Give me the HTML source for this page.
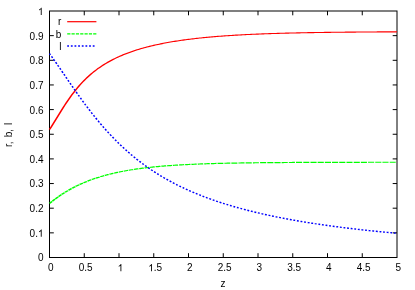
<!DOCTYPE html>
<html><head><meta charset="utf-8"><style>
html,body{margin:0;padding:0;background:#fff;}
svg{display:block}
text{font-family:"Liberation Sans",sans-serif;font-size:10px;fill:#000}
</style></head><body>
<svg width="415" height="290" viewBox="0 0 415 290">
<rect width="415" height="290" fill="#fff"/>
<g stroke="#000" stroke-width="1" fill="none"><path d="M84.25 257.50v-4.3M84.25 11.00v4.3"/><path d="M49.50 232.85h4.3M397.00 232.85h-4.3"/><path d="M119.00 257.50v-4.3M119.00 11.00v4.3"/><path d="M49.50 208.20h4.3M397.00 208.20h-4.3"/><path d="M153.75 257.50v-4.3M153.75 11.00v4.3"/><path d="M49.50 183.55h4.3M397.00 183.55h-4.3"/><path d="M188.50 257.50v-4.3M188.50 11.00v4.3"/><path d="M49.50 158.90h4.3M397.00 158.90h-4.3"/><path d="M223.25 257.50v-4.3M223.25 11.00v4.3"/><path d="M49.50 134.25h4.3M397.00 134.25h-4.3"/><path d="M258.00 257.50v-4.3M258.00 11.00v4.3"/><path d="M49.50 109.60h4.3M397.00 109.60h-4.3"/><path d="M292.75 257.50v-4.3M292.75 11.00v4.3"/><path d="M49.50 84.95h4.3M397.00 84.95h-4.3"/><path d="M327.50 257.50v-4.3M327.50 11.00v4.3"/><path d="M49.50 60.30h4.3M397.00 60.30h-4.3"/><path d="M362.25 257.50v-4.3M362.25 11.00v4.3"/><path d="M49.50 35.65h4.3M397.00 35.65h-4.3"/>
<rect x="49.5" y="11.0" width="347.5" height="246.5"/></g>
<g style="filter:grayscale(1)"><text x="48.12" y="271.30">0</text><text x="37.94" y="261.40">0</text><text x="78.70" y="271.30">0.5</text><text x="29.60" y="236.75">0.</text><path transform="translate(37.94,236.75) scale(0.004883,-0.004883)" d="M763 0H583V1147Q518 1085 412.5 1023T223 930V1104Q373 1174.5 485 1275T644 1470H763Z"/><path transform="translate(117.62,271.30) scale(0.004883,-0.004883)" d="M763 0H583V1147Q518 1085 412.5 1023T223 930V1104Q373 1174.5 485 1275T644 1470H763Z"/><text x="29.60" y="212.10">0.2</text><path transform="translate(148.20,271.30) scale(0.004883,-0.004883)" d="M763 0H583V1147Q518 1085 412.5 1023T223 930V1104Q373 1174.5 485 1275T644 1470H763Z"/><text x="153.76" y="271.30">.5</text><text x="29.60" y="187.45">0.3</text><text x="187.12" y="271.30">2</text><text x="29.60" y="162.80">0.4</text><text x="217.70" y="271.30">2.5</text><text x="29.60" y="138.15">0.5</text><text x="256.62" y="271.30">3</text><text x="29.60" y="113.50">0.6</text><text x="287.20" y="271.30">3.5</text><text x="29.60" y="88.85">0.7</text><text x="326.12" y="271.30">4</text><text x="29.60" y="64.20">0.8</text><text x="356.70" y="271.30">4.5</text><text x="29.60" y="39.55">0.9</text><text x="395.62" y="271.30">5</text><path transform="translate(37.94,14.90) scale(0.004883,-0.004883)" d="M763 0H583V1147Q518 1085 412.5 1023T223 930V1104Q373 1174.5 485 1275T644 1470H763Z"/>
<text x="223" y="286.7" text-anchor="middle">z</text>
<text transform="translate(12,134.8) rotate(-90)" text-anchor="middle" word-spacing="1.3">r, b, l</text>
<text x="61.4" y="25.2" text-anchor="end">r</text>
<text x="61.4" y="38" text-anchor="end">b</text>
<text x="61.4" y="50.3" text-anchor="end">l</text></g>
<g fill="none" stroke-width="1.2">
<path d="M67.2 21.7H96.4" stroke="#f00"/>
<path d="M67.2 33.95H96.7" stroke="#0f0" stroke-dasharray="3.2 1.13"/>
<path d="M67.2 46H95" stroke="#00f" stroke-width="1.5" stroke-dasharray="1.8 1.85"/>
</g>
<g fill="none" stroke-linejoin="round">
<path transform="scale(1.5,1)" stroke-width="1.1" d="M33.00 129.54L33.93 127.46L34.85 125.29L35.78 123.07L36.71 120.81L37.63 118.53L38.56 116.24L39.49 113.96L40.41 111.71L41.34 109.48L42.27 107.28L43.19 105.13L44.12 103.02L45.05 100.95L45.97 98.94L46.90 96.98L47.83 95.08L48.75 93.23L49.68 91.44L50.61 89.70L51.53 88.01L52.46 86.38L53.39 84.80L54.31 83.27L55.24 81.80L56.17 80.37L57.09 78.99L58.02 77.66L58.95 76.37L59.87 75.13L60.80 73.93L61.73 72.76L62.65 71.64L63.58 70.56L64.51 69.51L65.43 68.49L66.36 67.51L67.29 66.56L68.21 65.64L69.14 64.76L70.07 63.90L70.99 63.06L71.92 62.26L72.85 61.47L73.77 60.72L74.70 59.98L75.63 59.27L76.55 58.58L77.48 57.91L78.41 57.26L79.33 56.63L80.26 56.02L81.19 55.42L82.11 54.84L83.04 54.28L83.97 53.73L84.89 53.20L85.82 52.68L86.75 52.18L87.67 51.69L88.60 51.22L89.53 50.75L90.45 50.30L91.38 49.86L92.31 49.43L93.23 49.02L94.16 48.61L95.09 48.21L96.01 47.83L96.94 47.45L97.87 47.08L98.79 46.73L99.72 46.38L100.65 46.04L101.57 45.71L102.50 45.38L103.43 45.07L104.35 44.76L105.28 44.46L106.21 44.16L107.13 43.88L108.06 43.60L108.99 43.32L109.91 43.06L110.84 42.80L111.77 42.54L112.69 42.29L113.62 42.05L114.55 41.81L115.47 41.58L116.40 41.36L117.33 41.13L118.25 40.92L119.18 40.71L120.11 40.50L121.03 40.30L121.96 40.10L122.89 39.91L123.81 39.72L124.74 39.54L125.67 39.36L126.59 39.19L127.52 39.01L128.45 38.85L129.37 38.68L130.30 38.52L131.23 38.37L132.15 38.22L133.08 38.07L134.01 37.92L134.93 37.78L135.86 37.64L136.79 37.50L137.71 37.37L138.64 37.24L139.57 37.11L140.49 36.99L141.42 36.87L142.35 36.75L143.27 36.63L144.20 36.52L145.13 36.41L146.05 36.30L146.98 36.19L147.91 36.09L148.83 35.99L149.76 35.89L150.69 35.79L151.61 35.70L152.54 35.60L153.47 35.51L154.39 35.43L155.32 35.34L156.25 35.25L157.17 35.17L158.10 35.09L159.03 35.01L159.95 34.94L160.88 34.86L161.81 34.79L162.73 34.71L163.66 34.64L164.59 34.57L165.51 34.51L166.44 34.44L167.37 34.38L168.29 34.31L169.22 34.25L170.15 34.19L171.07 34.13L172.00 34.08L172.93 34.02L173.85 33.96L174.78 33.91L175.71 33.86L176.63 33.81L177.56 33.76L178.49 33.71L179.41 33.66L180.34 33.61L181.27 33.57L182.19 33.52L183.12 33.48L184.05 33.43L184.97 33.39L185.90 33.35L186.83 33.31L187.75 33.27L188.68 33.23L189.61 33.20L190.53 33.16L191.46 33.12L192.39 33.09L193.31 33.06L194.24 33.02L195.17 32.99L196.09 32.96L197.02 32.93L197.95 32.90L198.87 32.87L199.80 32.84L200.73 32.81L201.65 32.78L202.58 32.75L203.51 32.73L204.43 32.70L205.36 32.67L206.29 32.65L207.21 32.63L208.14 32.60L209.07 32.58L209.99 32.56L210.92 32.53L211.85 32.51L212.77 32.49L213.70 32.47L214.63 32.45L215.55 32.43L216.48 32.41L217.41 32.39L218.33 32.37L219.26 32.35L220.19 32.34L221.11 32.32L222.04 32.30L222.97 32.28L223.89 32.27L224.82 32.25L225.75 32.24L226.67 32.22L227.60 32.21L228.53 32.19L229.45 32.18L230.38 32.16L231.31 32.15L232.23 32.14L233.16 32.12L234.09 32.11L235.01 32.10L235.94 32.09L236.87 32.08L237.79 32.06L238.72 32.05L239.65 32.04L240.57 32.03L241.50 32.02L242.43 32.01L243.35 32.00L244.28 31.99L245.21 31.98L246.13 31.97L247.06 31.96L247.99 31.95L248.91 31.94L249.84 31.94L250.77 31.93L251.69 31.92L252.62 31.91L253.55 31.90L254.47 31.90L255.40 31.89L256.33 31.88L257.25 31.87L258.18 31.87L259.11 31.86L260.03 31.85L260.96 31.85L261.89 31.84L262.81 31.83L263.74 31.83L264.67 31.82" stroke="#f00"/>
<path transform="scale(1.7,1)" stroke-width="1.2" d="M29.12 203.43L29.94 202.30L30.62 201.38M30.89 201.02L31.57 200.13L32.39 199.08M32.59 198.82L33.21 198.06L34.02 197.07L34.16 196.91M34.43 196.58L34.84 196.10L35.66 195.16L36.07 194.70M36.34 194.40L36.48 194.25L37.29 193.36L38.04 192.56M38.32 192.27L38.93 191.64L39.75 190.82L40.02 190.55M40.36 190.22L40.56 190.02L41.38 189.24L42.13 188.55M42.47 188.24L43.02 187.75L43.84 187.03L44.31 186.62M44.58 186.39L44.65 186.33L45.47 185.65L46.29 184.99L46.49 184.83M46.83 184.56L47.11 184.35L47.92 183.72L48.74 183.12L48.81 183.07M49.15 182.82L49.56 182.53L50.38 181.95L51.13 181.44M51.53 181.16L52.01 180.85L52.83 180.32L53.58 179.85M53.99 179.59L54.46 179.30L55.28 178.82L56.10 178.35M56.44 178.15L56.92 177.89L57.74 177.44L58.55 177.01L58.62 176.97M59.03 176.76L59.37 176.58L60.19 176.17L61.01 175.77L61.28 175.64M61.69 175.45L61.82 175.39L62.64 175.01L63.46 174.64L63.94 174.44M64.34 174.26L65.09 173.94L65.91 173.61L66.73 173.28M67.14 173.12L67.55 172.96L68.36 172.65L69.18 172.35L69.52 172.23M70.00 172.06L70.82 171.78L71.64 171.50L72.45 171.24M72.86 171.11L73.27 170.98L74.09 170.72L74.91 170.48L75.38 170.34M75.79 170.22L76.54 170.01L77.36 169.79L78.18 169.57L78.38 169.51M78.86 169.39L78.99 169.36L79.81 169.15L80.63 168.95L81.45 168.75M81.92 168.64L82.26 168.57L83.08 168.38L83.90 168.20L84.58 168.06M85.06 167.96L85.54 167.86L86.35 167.70L87.17 167.54L87.78 167.42M88.26 167.34L88.81 167.24L89.62 167.09L90.44 166.95L91.05 166.85M91.53 166.77L92.08 166.68L92.89 166.55L93.71 166.42L94.39 166.32M94.87 166.25L95.35 166.18L96.16 166.07L96.98 165.96L97.80 165.85M98.28 165.79L98.62 165.74L99.44 165.64L100.25 165.54L101.07 165.45L101.27 165.42M101.75 165.37L101.89 165.35L102.71 165.26L103.52 165.17L104.34 165.09L104.75 165.04M105.30 164.99L105.98 164.92L106.79 164.84L107.61 164.77L108.36 164.70M108.91 164.65L109.25 164.62L110.06 164.55L110.88 164.48L111.70 164.42L112.04 164.39M112.59 164.35L113.34 164.29L114.15 164.23L114.97 164.17L115.72 164.12M116.33 164.08L116.61 164.06L117.42 164.01L118.24 163.96L119.06 163.91L119.54 163.88M120.15 163.84L120.69 163.81L121.51 163.76L122.33 163.72L123.15 163.67L123.42 163.66M124.03 163.63L124.78 163.59L125.60 163.55L126.42 163.51L127.24 163.47L127.37 163.47M127.98 163.44L128.05 163.44L128.87 163.40L129.69 163.37L130.51 163.33L131.32 163.30L131.39 163.30M132.00 163.28L132.14 163.27L132.96 163.24L133.78 163.21L134.59 163.18L135.41 163.15L135.48 163.15M136.09 163.13L136.23 163.13L137.05 163.10L137.86 163.07L138.68 163.05L139.50 163.03L139.64 163.02M140.25 163.00L140.32 163.00L141.14 162.98L141.95 162.96L142.77 162.94L143.59 162.92L143.86 162.91M144.47 162.89L145.22 162.88L146.04 162.86L146.86 162.84L147.68 162.82L148.09 162.81M148.77 162.80L149.31 162.79L150.13 162.77L150.95 162.75L151.76 162.74L152.31 162.73M152.99 162.72L153.40 162.71L154.22 162.69L155.04 162.68L155.85 162.67L156.60 162.66M157.22 162.65L157.49 162.64L158.31 162.63L159.12 162.62L159.94 162.61L160.76 162.59L160.83 162.59M161.44 162.59L161.58 162.58L162.39 162.57L163.21 162.56L164.03 162.55L164.85 162.54L165.05 162.54M165.66 162.53L166.48 162.53L167.30 162.52L168.12 162.51L168.94 162.50L169.28 162.50M169.89 162.49L170.57 162.48L171.39 162.48L172.21 162.47L173.02 162.46L173.50 162.46M174.11 162.45L174.66 162.45L175.48 162.44L176.29 162.44L177.11 162.43L177.72 162.42M178.41 162.42L178.75 162.42L179.56 162.41L180.38 162.41L181.20 162.40L181.95 162.40M182.63 162.39L182.84 162.39L183.65 162.39L184.47 162.38L185.29 162.38L186.11 162.37L186.24 162.37M186.86 162.37L186.92 162.37L187.74 162.36L188.56 162.36L189.38 162.36L190.19 162.35L190.47 162.35M191.08 162.35L191.83 162.34L192.65 162.34L193.46 162.34L194.28 162.33L194.69 162.33M195.30 162.33L195.92 162.33L196.74 162.32L197.55 162.32L198.37 162.32L198.92 162.32M199.53 162.32L200.01 162.31L200.82 162.31L201.64 162.31L202.46 162.31L203.14 162.30M203.82 162.30L204.09 162.30L204.91 162.30L205.73 162.30L206.55 162.29L207.36 162.29M208.05 162.29L208.18 162.29L209.00 162.29L209.82 162.29L210.64 162.28L211.45 162.28L211.66 162.28M212.27 162.28L213.09 162.28L213.91 162.28L214.72 162.28L215.54 162.28L215.88 162.27M216.50 162.27L217.18 162.27L217.99 162.27L218.81 162.27L219.63 162.27L220.11 162.27M220.72 162.27L221.26 162.27L222.08 162.26L222.90 162.26L223.72 162.26L224.33 162.26M224.94 162.26L225.35 162.26L226.17 162.26L226.99 162.26L227.81 162.26L228.56 162.26M229.24 162.26L229.44 162.26L230.26 162.25L231.08 162.25L231.89 162.25L232.71 162.25L232.78 162.25M233.46 162.25L233.53 162.25L233.53 162.25" stroke="#0f0"/>
<path transform="scale(1.1,1)" stroke-width="1.4" d="M45.00 53.57L45.84 54.83M46.79 56.27L47.53 57.39L47.84 57.88M48.69 59.18L48.79 59.35L49.74 60.83M50.58 62.15L51.32 63.31L51.63 63.81M52.48 65.15L52.58 65.32L53.42 66.66M54.37 68.18L55.11 69.37L55.32 69.70M56.16 71.06L56.37 71.40L57.22 72.76M58.06 74.12L58.90 75.47L59.01 75.64M59.95 77.17L60.16 77.51L60.90 78.70M61.74 80.05L62.69 81.58M63.64 83.09L63.95 83.60L64.59 84.61M65.53 86.12L66.48 87.62M67.43 89.11L67.75 89.61L68.38 90.60M69.22 91.92L70.27 93.56M71.22 95.03L71.54 95.52L72.17 96.49M73.12 97.94L74.06 99.38M75.01 100.81L75.33 101.28L76.06 102.38M77.01 103.79L77.85 105.04L77.96 105.19M78.91 106.58L79.12 106.88L79.96 108.11M80.91 109.47L81.65 110.52L81.96 110.97M82.91 112.31L83.96 113.79M85.02 115.25L85.44 115.83L86.07 116.70M87.02 117.98L87.96 119.26L88.17 119.54M89.12 120.80L89.23 120.94L90.28 122.33M91.23 123.56L91.75 124.24L92.39 125.06M93.44 126.40L94.28 127.46L94.49 127.72M95.55 129.03L96.70 130.45M97.76 131.73L98.07 132.11L98.92 133.12M99.97 134.37L100.60 135.11L101.23 135.84M102.28 137.06L103.13 138.02L103.44 138.37M104.60 139.67L105.65 140.84L105.76 140.95M106.92 142.22L108.08 143.46M109.23 144.69L109.45 144.91L110.50 146.01M111.66 147.21L111.97 147.53L112.92 148.49M114.08 149.65L114.50 150.07L115.34 150.89M116.50 152.02L117.03 152.52L117.87 153.32M119.03 154.41L119.55 154.90L120.29 155.58M121.56 156.74L122.08 157.21L122.92 157.96M124.08 158.99L124.61 159.45L125.45 160.17M126.72 161.25L127.14 161.61L128.08 162.40M129.35 163.45L129.66 163.71L130.72 164.56M131.98 165.57L132.19 165.74L133.35 166.65M134.61 167.63L134.72 167.71L135.98 168.67L136.09 168.75M137.35 169.69L138.51 170.54L138.82 170.77M140.09 171.69L141.04 172.36L141.56 172.73M142.93 173.69L143.56 174.12L144.30 174.62M145.67 175.55L146.09 175.83L147.14 176.52M148.51 177.41L148.62 177.48L149.88 178.29L149.99 178.36M151.36 179.22L152.41 179.87L152.83 180.13M154.20 180.96L154.94 181.40L155.78 181.90M157.15 182.70L157.46 182.88L158.62 183.55M160.10 184.38L161.25 185.03L161.57 185.20M163.04 186.01L163.78 186.40L164.52 186.80M165.99 187.57L166.31 187.74L167.47 188.34M168.94 189.09L170.10 189.67L170.52 189.88M171.89 190.55L172.63 190.91L173.47 191.32M174.94 192.02L175.15 192.12L176.42 192.71L176.52 192.76M178.00 193.43L178.95 193.86L179.58 194.15M181.05 194.80L181.47 194.98L182.63 195.49M184.11 196.12L185.26 196.61L185.68 196.79M187.16 197.40L187.79 197.66L188.74 198.04M190.21 198.64L190.32 198.68L191.58 199.18L191.90 199.30M193.37 199.87L194.11 200.16L194.95 200.48M196.43 201.03L196.64 201.11L197.90 201.58L198.11 201.65M199.58 202.19L200.43 202.49L201.27 202.79M202.74 203.31L202.95 203.38L204.22 203.82L204.32 203.86M205.90 204.40L206.75 204.68L207.48 204.93M209.06 205.45L209.27 205.52L210.54 205.93L210.64 205.96M212.22 206.47L213.06 206.74L213.80 206.97M215.38 207.46L215.59 207.52L216.85 207.91L216.96 207.94M218.54 208.42L219.38 208.67L220.12 208.89M221.70 209.35L221.91 209.41L223.17 209.77L223.38 209.83M224.86 210.25L225.70 210.49L226.54 210.72M228.02 211.13L228.23 211.19L229.49 211.53L229.70 211.59M231.28 212.01L232.02 212.21L232.97 212.45M234.44 212.84L234.55 212.86L235.81 213.19L236.12 213.27M237.70 213.67L238.34 213.83L239.39 214.09M240.86 214.45L242.13 214.76L242.55 214.86M244.13 215.23L244.65 215.36L245.81 215.63M247.29 215.97L248.45 216.24L248.97 216.36M250.55 216.71L250.97 216.81L252.24 217.09M253.71 217.41L254.76 217.64L255.40 217.78M256.97 218.12L257.29 218.18L258.55 218.45L258.66 218.47M260.24 218.80L261.08 218.97L261.92 219.15M263.50 219.47L263.61 219.49L264.87 219.74L265.19 219.80M266.66 220.09L267.40 220.24L268.35 220.42M269.93 220.73L271.19 220.97L271.61 221.05M273.19 221.34L273.72 221.44L274.88 221.65M276.46 221.94L277.51 222.13L278.14 222.25M279.72 222.53L280.04 222.58L281.30 222.80L281.41 222.82M282.88 223.08L283.83 223.24L284.67 223.38M286.14 223.63L286.35 223.67L287.62 223.88L287.83 223.91M289.41 224.18L290.15 224.30L291.09 224.45M292.67 224.70L293.94 224.90L294.36 224.97M295.94 225.22L296.46 225.30L297.62 225.48M299.20 225.72L300.25 225.88L300.89 225.98M302.47 226.21L302.78 226.26L304.05 226.45L304.15 226.46M305.73 226.69L306.57 226.81L307.42 226.93M308.99 227.16L309.10 227.17L310.36 227.35L310.68 227.39M312.26 227.61L312.89 227.70L313.94 227.84M315.52 228.06L316.68 228.21L317.21 228.28M318.79 228.49L319.21 228.55L320.47 228.71M322.05 228.92L323.00 229.04L323.74 229.13M325.32 229.33L325.53 229.36L326.79 229.51L327.00 229.54M328.58 229.73L329.32 229.82L330.27 229.94M331.85 230.13L333.11 230.28L333.53 230.33M335.11 230.51L335.64 230.58L336.79 230.71M338.37 230.89L339.43 231.01L340.16 231.09M341.64 231.26L341.95 231.29L343.22 231.43L343.43 231.46M345.01 231.63L345.75 231.71L346.69 231.81M348.27 231.98L349.54 232.11L349.96 232.16M351.54 232.32L352.06 232.38L353.22 232.50M354.80 232.66L355.85 232.76L356.49 232.83M358.07 232.98L358.38 233.02L359.65 233.14L359.75 233.15" stroke="#00f"/>
</g>
</svg></body></html>
